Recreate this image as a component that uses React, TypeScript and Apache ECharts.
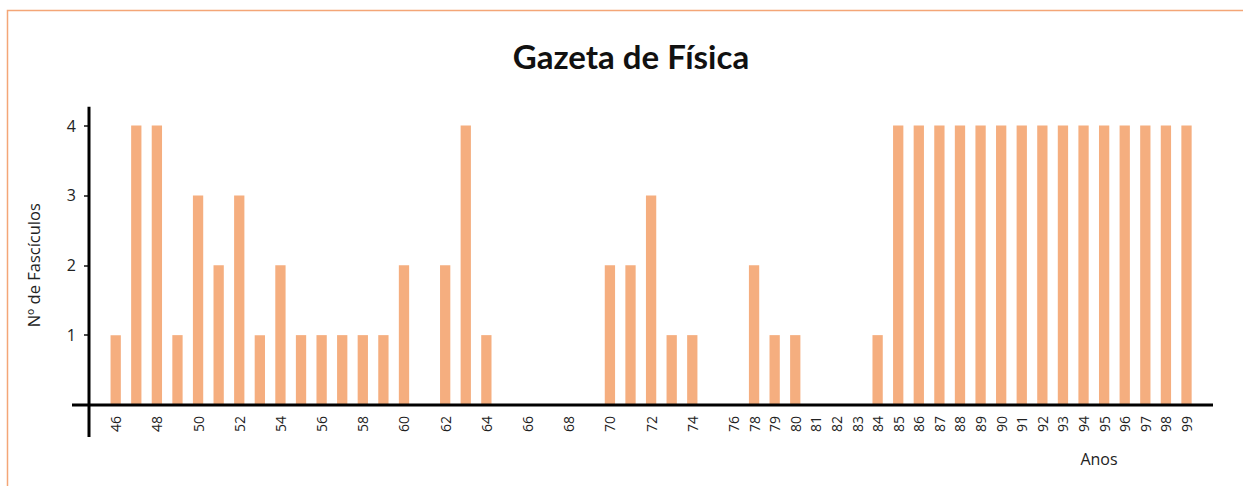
import React, { useEffect, useRef } from "react";
import * as echarts from "echarts";

const years: string[] = [
  "46", "47", "48", "49", "50", "51", "52", "53", "54", "55", "56", "57", "58", "59", "60",
  "61", "62", "63", "64", "65", "66", "67", "68", "69", "70", "71", "72", "73", "74", "75",
  "76", "78", "79", "80", "81", "82", "83", "84", "85", "86", "87", "88", "89", "90", "91",
  "92", "93", "94", "95", "96", "97", "98", "99",
];

const fasciculos: number[] = [
  1, 4, 4, 1, 3, 2, 3, 1, 2, 1, 1, 1, 1, 1, 2,
  0, 2, 4, 1, 0, 0, 0, 0, 0, 2, 2, 3, 1, 1, 0,
  0, 2, 1, 1, 0, 0, 0, 1, 4, 4, 4, 4, 4, 4, 4,
  4, 4, 4, 4, 4, 4, 4, 4,
];

const yTicks: number[] = [0, 1, 2, 3, 4];

const FONT = "'Open Sans', 'DejaVu Sans', sans-serif";
const BAR = "#F5AE7F";
const FRAME = "#F4A677";

export default function App() {
  const ref = useRef<HTMLDivElement>(null);
  useEffect(() => {
    if (!ref.current) return;
    const chart = echarts.init(ref.current, null, { renderer: "svg" });
    chart.setOption({
      animation: false,
      backgroundColor: "#ffffff",
      title: {
        text: "Gazeta de Física",
        left: 626,
        textAlign: "center",
        top: 34,
        textStyle: { fontFamily: "Lato, 'Open Sans', sans-serif", fontWeight: "bold", fontSize: 33, color: "#111" },
      },
      grid: { left: 105.4, right: 46.2, top: 125.5, bottom: 81, containLabel: false },
      xAxis: {
        type: "category",
        data: years,
        boundaryGap: true,
        axisLine: { show: false },
        axisTick: { show: false },
        axisLabel: {
          rotate: 90,
          margin: 11,
          fontFamily: FONT,
          fontSize: 14,
          color: "#222",
          interval: (_i: number, v: string) => {
            const y = Number(v);
            return y >= 78 || y % 2 === 0;
          },
        },
      },
      yAxis: {
        type: "value",
        min: yTicks[0],
        max: yTicks[yTicks.length - 1],
        interval: 1,
        offset: 16.4,
        splitLine: { show: false },
        axisLine: { show: false },
        axisTick: { show: true, length: 5, lineStyle: { color: "#111", width: 1.5 } },
        axisLabel: {
          margin: 13,
          fontFamily: FONT,
          fontSize: 16,
          color: "#222",
          formatter: (v: number) => (v === 0 ? "" : String(v)),
        },
        name: "Nº de Fascículos",
        nameLocation: "middle",
        nameGap: 47,
        nameRotate: 90,
        nameTextStyle: { fontFamily: FONT, fontSize: 16.5, color: "#222" },
      },
      series: [
        {
          type: "bar",
          data: fasciculos,
          barWidth: "50%",
          itemStyle: { color: BAR },
        },
      ],
    });
    const y0 = chart.convertToPixel({ yAxisIndex: 0 }, 0) as number;
    const yTop = chart.convertToPixel({ yAxisIndex: 0 }, 4.27) as number;
    chart.setOption({
      graphic: [
        { type: "rect", shape: { x: 7.5, y: 10.5, width: 1400, height: 800 }, style: { fill: "none", stroke: FRAME, lineWidth: 1.5 }, silent: true },
        { type: "line", shape: { x1: 72, y1: y0, x2: 1213, y2: y0 }, style: { stroke: "#000", lineWidth: 3 }, z: 10 },
        { type: "line", shape: { x1: 89, y1: yTop, x2: 89, y2: 437 }, style: { stroke: "#000", lineWidth: 3 }, z: 10 },
        {
          type: "text",
          x: 1099,
          y: 459,
          style: { text: "Anos", fontFamily: FONT, fontSize: 16, fill: "#222", textAlign: "center", textVerticalAlign: "middle" },
        },
      ],
    });
    return () => chart.dispose();
  }, []);
  return <div ref={ref} style={{ position: "fixed", left: 0, top: 0, width: 1243, height: 486 }} />;
}
